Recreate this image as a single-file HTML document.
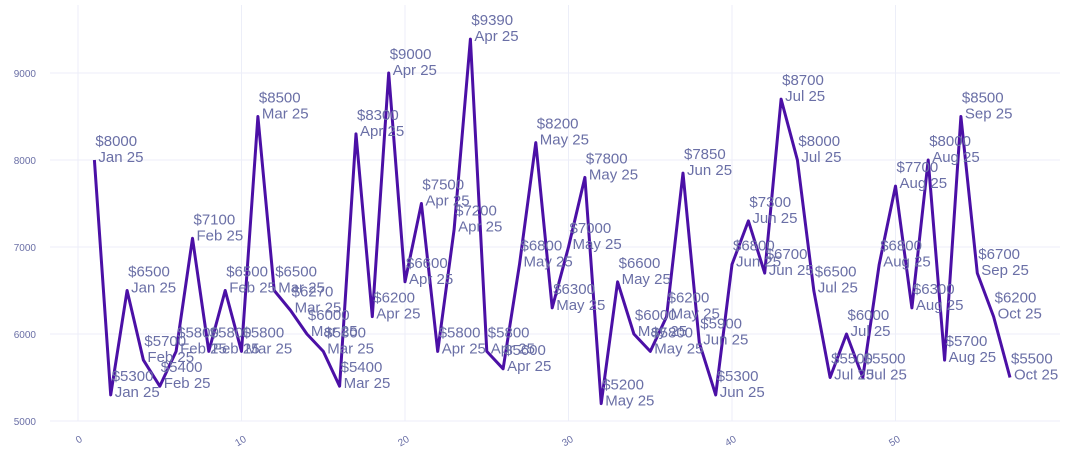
<!DOCTYPE html>
<html><head><meta charset="utf-8"><style>
html,body{margin:0;padding:0;background:#fff;}
svg{display:block;font-family:"Liberation Sans",Arial,sans-serif;}
.t text{font-size:15px;fill:#6a6fa6;}
.ax{font-size:10px;fill:#6a6fa6;}
</style></head><body>
<svg width="1072" height="462" viewBox="0 0 1072 462">
<g stroke="#eceef8" stroke-width="1">
<line x1="50" x2="1060" y1="421" y2="421"/><line x1="50" x2="1060" y1="334" y2="334"/><line x1="50" x2="1060" y1="247" y2="247"/><line x1="50" x2="1060" y1="160" y2="160"/><line x1="50" x2="1060" y1="73" y2="73"/>
<line x1="78" x2="78" y1="5" y2="421"/><line x1="241.5" x2="241.5" y1="5" y2="421"/><line x1="405" x2="405" y1="5" y2="421"/><line x1="568.5" x2="568.5" y1="5" y2="421"/><line x1="732" x2="732" y1="5" y2="421"/><line x1="895.5" x2="895.5" y1="5" y2="421"/>
</g>
<g class="ax" text-anchor="end">
<text x="36" y="425">5000</text><text x="36" y="338">6000</text><text x="36" y="251">7000</text><text x="36" y="164">8000</text><text x="36" y="77">9000</text>
</g>
<g class="ax" text-anchor="end">
<text transform="translate(83,441) rotate(-30)">0</text>
<text transform="translate(247,441) rotate(-30)">10</text>
<text transform="translate(410,441) rotate(-30)">20</text>
<text transform="translate(574,441) rotate(-30)">30</text>
<text transform="translate(737,441) rotate(-30)">40</text>
<text transform="translate(901,441) rotate(-30)">50</text>
</g>
<polyline fill="none" stroke="#4b10a6" stroke-width="3" stroke-linejoin="round" points="94.4,160 110.7,394.9 127.1,290.5 143.4,360.1 159.8,386.2 176.1,351.4 192.5,238.3 208.8,351.4 225.2,290.5 241.5,351.4 257.9,116.5 274.2,290.5 290.6,310.5 306.9,334 323.3,351.4 339.6,386.2 356,133.9 372.3,316.6 388.7,73 405,281.8 421.4,203.5 437.7,351.4 454.1,229.6 470.4,39.1 486.8,351.4 503.1,368.8 519.5,264.4 535.8,142.6 552.2,307.9 568.5,247 584.9,177.4 601.2,403.6 617.6,281.8 633.9,334 650.3,351.4 666.6,316.6 683,173.1 699.3,342.7 715.7,394.9 732,264.4 748.4,220.9 764.7,273.1 781.1,99.1 797.4,160 813.8,290.5 830.1,377.5 846.5,334 862.8,377.5 879.2,264.4 895.5,186.1 911.9,307.9 928.2,160 944.6,360.1 960.9,116.5 977.3,273.1 993.6,316.6 1010,377.5"/>
<g class="t">
<g transform="translate(94.4,160)"><text x="1" y="-14">$8000</text><text x="4" y="2">Jan 25</text></g>
<g transform="translate(110.7,394.9)"><text x="1" y="-14">$5300</text><text x="4" y="2">Jan 25</text></g>
<g transform="translate(127.1,290.5)"><text x="1" y="-14">$6500</text><text x="4" y="2">Jan 25</text></g>
<g transform="translate(143.4,360.1)"><text x="1" y="-14">$5700</text><text x="4" y="2">Feb 25</text></g>
<g transform="translate(159.8,386.2)"><text x="1" y="-14">$5400</text><text x="4" y="2">Feb 25</text></g>
<g transform="translate(176.1,351.4)"><text x="1" y="-14">$5800</text><text x="4" y="2">Feb 25</text></g>
<g transform="translate(192.5,238.3)"><text x="1" y="-14">$7100</text><text x="4" y="2">Feb 25</text></g>
<g transform="translate(208.8,351.4)"><text x="1" y="-14">$5800</text><text x="4" y="2">Feb 25</text></g>
<g transform="translate(225.2,290.5)"><text x="1" y="-14">$6500</text><text x="4" y="2">Feb 25</text></g>
<g transform="translate(241.5,351.4)"><text x="1" y="-14">$5800</text><text x="4" y="2">Mar 25</text></g>
<g transform="translate(257.9,116.5)"><text x="1" y="-14">$8500</text><text x="4" y="2">Mar 25</text></g>
<g transform="translate(274.2,290.5)"><text x="1" y="-14">$6500</text><text x="4" y="2">Mar 25</text></g>
<g transform="translate(290.6,310.5)"><text x="1" y="-14">$6270</text><text x="4" y="2">Mar 25</text></g>
<g transform="translate(306.9,334)"><text x="1" y="-14">$6000</text><text x="4" y="2">Mar 25</text></g>
<g transform="translate(323.3,351.4)"><text x="1" y="-14">$5800</text><text x="4" y="2">Mar 25</text></g>
<g transform="translate(339.6,386.2)"><text x="1" y="-14">$5400</text><text x="4" y="2">Mar 25</text></g>
<g transform="translate(356,133.9)"><text x="1" y="-14">$8300</text><text x="4" y="2">Apr 25</text></g>
<g transform="translate(372.3,316.6)"><text x="1" y="-14">$6200</text><text x="4" y="2">Apr 25</text></g>
<g transform="translate(388.7,73)"><text x="1" y="-14">$9000</text><text x="4" y="2">Apr 25</text></g>
<g transform="translate(405,281.8)"><text x="1" y="-14">$6600</text><text x="4" y="2">Apr 25</text></g>
<g transform="translate(421.4,203.5)"><text x="1" y="-14">$7500</text><text x="4" y="2">Apr 25</text></g>
<g transform="translate(437.7,351.4)"><text x="1" y="-14">$5800</text><text x="4" y="2">Apr 25</text></g>
<g transform="translate(454.1,229.6)"><text x="1" y="-14">$7200</text><text x="4" y="2">Apr 25</text></g>
<g transform="translate(470.4,39.1)"><text x="1" y="-14">$9390</text><text x="4" y="2">Apr 25</text></g>
<g transform="translate(486.8,351.4)"><text x="1" y="-14">$5800</text><text x="4" y="2">Apr 25</text></g>
<g transform="translate(503.1,368.8)"><text x="1" y="-14">$5600</text><text x="4" y="2">Apr 25</text></g>
<g transform="translate(519.5,264.4)"><text x="1" y="-14">$6800</text><text x="4" y="2">May 25</text></g>
<g transform="translate(535.8,142.6)"><text x="1" y="-14">$8200</text><text x="4" y="2">May 25</text></g>
<g transform="translate(552.2,307.9)"><text x="1" y="-14">$6300</text><text x="4" y="2">May 25</text></g>
<g transform="translate(568.5,247)"><text x="1" y="-14">$7000</text><text x="4" y="2">May 25</text></g>
<g transform="translate(584.9,177.4)"><text x="1" y="-14">$7800</text><text x="4" y="2">May 25</text></g>
<g transform="translate(601.2,403.6)"><text x="1" y="-14">$5200</text><text x="4" y="2">May 25</text></g>
<g transform="translate(617.6,281.8)"><text x="1" y="-14">$6600</text><text x="4" y="2">May 25</text></g>
<g transform="translate(633.9,334)"><text x="1" y="-14">$6000</text><text x="4" y="2">May 25</text></g>
<g transform="translate(650.3,351.4)"><text x="1" y="-14">$5800</text><text x="4" y="2">May 25</text></g>
<g transform="translate(666.6,316.6)"><text x="1" y="-14">$6200</text><text x="4" y="2">May 25</text></g>
<g transform="translate(683,173.1)"><text x="1" y="-14">$7850</text><text x="4" y="2">Jun 25</text></g>
<g transform="translate(699.3,342.7)"><text x="1" y="-14">$5900</text><text x="4" y="2">Jun 25</text></g>
<g transform="translate(715.7,394.9)"><text x="1" y="-14">$5300</text><text x="4" y="2">Jun 25</text></g>
<g transform="translate(732,264.4)"><text x="1" y="-14">$6800</text><text x="4" y="2">Jun 25</text></g>
<g transform="translate(748.4,220.9)"><text x="1" y="-14">$7300</text><text x="4" y="2">Jun 25</text></g>
<g transform="translate(764.7,273.1)"><text x="1" y="-14">$6700</text><text x="4" y="2">Jun 25</text></g>
<g transform="translate(781.1,99.1)"><text x="1" y="-14">$8700</text><text x="4" y="2">Jul 25</text></g>
<g transform="translate(797.4,160)"><text x="1" y="-14">$8000</text><text x="4" y="2">Jul 25</text></g>
<g transform="translate(813.8,290.5)"><text x="1" y="-14">$6500</text><text x="4" y="2">Jul 25</text></g>
<g transform="translate(830.1,377.5)"><text x="1" y="-14">$5500</text><text x="4" y="2">Jul 25</text></g>
<g transform="translate(846.5,334)"><text x="1" y="-14">$6000</text><text x="4" y="2">Jul 25</text></g>
<g transform="translate(862.8,377.5)"><text x="1" y="-14">$5500</text><text x="4" y="2">Jul 25</text></g>
<g transform="translate(879.2,264.4)"><text x="1" y="-14">$6800</text><text x="4" y="2">Aug 25</text></g>
<g transform="translate(895.5,186.1)"><text x="1" y="-14">$7700</text><text x="4" y="2">Aug 25</text></g>
<g transform="translate(911.9,307.9)"><text x="1" y="-14">$6300</text><text x="4" y="2">Aug 25</text></g>
<g transform="translate(928.2,160)"><text x="1" y="-14">$8000</text><text x="4" y="2">Aug 25</text></g>
<g transform="translate(944.6,360.1)"><text x="1" y="-14">$5700</text><text x="4" y="2">Aug 25</text></g>
<g transform="translate(960.9,116.5)"><text x="1" y="-14">$8500</text><text x="4" y="2">Sep 25</text></g>
<g transform="translate(977.3,273.1)"><text x="1" y="-14">$6700</text><text x="4" y="2">Sep 25</text></g>
<g transform="translate(993.6,316.6)"><text x="1" y="-14">$6200</text><text x="4" y="2">Oct 25</text></g>
<g transform="translate(1010,377.5)"><text x="1" y="-14">$5500</text><text x="4" y="2">Oct 25</text></g>
</g>
</svg>
</body></html>
